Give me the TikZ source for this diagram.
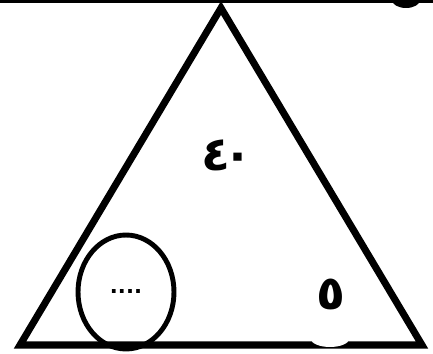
\documentclass[tikz,border=0pt]{standalone}
\usepackage{fontspec}
\newfontfamily\arabicfont[Script=Arabic]{DejaVu Sans}
\usetikzlibrary{shapes.geometric}

\begin{document}
\begin{tikzpicture}[
    x=0.02cm, y=-0.02cm,
    edge line/.style={line width=4pt, line join=miter},
    blank oval/.style={ellipse, draw, line width=2.8pt, minimum width=1.92cm,
                       minimum height=2.28cm, inner sep=0pt,
                       font=\arabicfont\bfseries\fontsize{12}{14}\selectfont},
    digit/.style={font=\arabicfont\bfseries\fontsize{27}{30}\selectfont, inner sep=0pt},
]

% page area
\useasboundingbox (0,0) rectangle (433,354);

% top rule and the piece cut off at the right
\draw[line width=1.8pt] (0,1.5) -- (433,1.5);
\fill (406,0) ellipse [x radius=14, y radius=8];

% triangle
\coordinate (apex) at (221,8);
\coordinate (left) at (20,345);
\coordinate (right) at (422,345);
\draw[edge line] (apex) -- (left) -- (right) -- cycle;

% white gap in the base
\fill[white] (330,339) ellipse [x radius=19, y radius=8];

% circle with the missing number
\node[blank oval] (gap) at (126,292) {....};

% numbers
\node[digit] (top) at (227,155) {٤\kern-4pt٠};
\node[digit] (side) at (331,294) {٥};

\end{tikzpicture}
\end{document}
